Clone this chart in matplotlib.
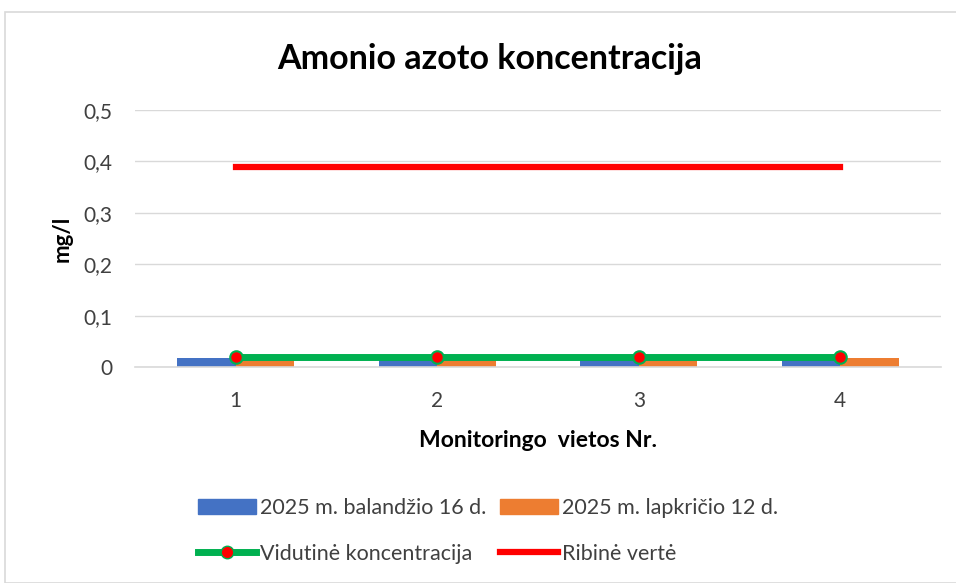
import matplotlib.pyplot as plt
import numpy as np
from matplotlib.patches import Rectangle
from matplotlib.lines import Line2D

plt.rcParams['font.family'] = ['Lato', 'DejaVu Sans']

# Data
sites = ['1', '2', '3', '4']
balandzio = [0.018, 0.014, 0.014, 0.018]
lapkricio = [0.014, 0.014, 0.014, 0.018]
vidutine = [0.02, 0.02, 0.02, 0.02]
ribine = [0.39, 0.39, 0.39, 0.39]
yticks = [0, 0.1, 0.2, 0.3, 0.4, 0.5]
ytick_labels = ['0', '0,1', '0,2', '0,3', '0,4', '0,5']

fig = plt.figure(figsize=(9.56, 5.83), dpi=100)
ax = fig.add_axes([135 / 956, 1 - 367 / 583, (941 - 135) / 956, (367 - 110) / 583])

# chart frame
fig.patches.append(Rectangle((5 / 956, 0), 1, 1 - 12 / 583, transform=fig.transFigure,
                             fill=False, edgecolor='#d9d9d9', linewidth=1.2))

x = np.arange(len(sites))
w = 0.29
b1 = ax.bar(x - w / 2, balandzio, w, color='#4472c4', zorder=2)
b2 = ax.bar(x + w / 2, lapkricio, w, color='#ed7d31', zorder=2)
ax.plot(x, vidutine, color='#00b050', linewidth=5, marker='o', markersize=9,
        markerfacecolor='red', markeredgecolor='#00b050', markeredgewidth=1.5, zorder=3)
ax.plot(x, ribine, color='red', linewidth=4.5, zorder=3)

ax.set_xlim(-0.5, len(sites) - 0.5)
ax.set_ylim(0, 0.5)
ax.set_xticks(x)
ax.set_xticklabels(sites)
ax.set_yticks(yticks)
ax.set_yticklabels(ytick_labels)
ax.tick_params(axis='both', length=0, labelsize=15, colors='#404040')
ax.tick_params(axis='x', pad=17)
ax.tick_params(axis='y', pad=16)
ax.grid(axis='y', color='#d9d9d9', linewidth=1, zorder=0)
for s in ['left', 'right', 'top']:
    ax.spines[s].set_visible(False)
ax.spines['bottom'].set_color('#d9d9d9')
ax.spines['bottom'].set_linewidth(1.2)

ax.set_xlabel('Monitoringo  vietos Nr.', fontsize=16.5, fontweight='bold', labelpad=14)
ax.set_ylabel('mg/l', fontsize=16, fontweight='bold', labelpad=8)
fig.text(490 / 956, 1 - 59 / 583, 'Amonio azoto koncentracija', ha='center', va='center',
         fontsize=24.5, fontweight='bold')

handles = [
    Rectangle((0, 0), 1, 1, color='#4472c4'),
    Line2D([], [], color='#00b050', linewidth=5, marker='o', markersize=9,
           markerfacecolor='red', markeredgecolor='#00b050'),
    Rectangle((0, 0), 1, 1, color='#ed7d31'),
    Line2D([], [], color='red', linewidth=4.5),
]
labels = ['2025 m. balandžio 16 d.', 'Vidutinė koncentracija',
          '2025 m. lapkričio 12 d.', 'Ribinė vertė']
fig.legend(handles, labels, ncol=2, loc='center', bbox_to_anchor=(488 / 956, 1 - 531 / 583),
           frameon=False, fontsize=15.5, handlelength=2.7, handleheight=0.7,
           columnspacing=0.6, handletextpad=0.2, labelspacing=1.2, labelcolor='#404040')

plt.savefig('out.png', dpi=100)
